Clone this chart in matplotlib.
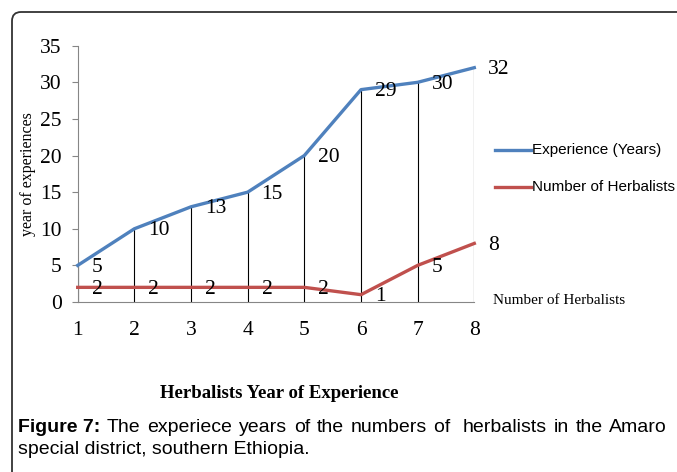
import matplotlib
matplotlib.use("Agg")
import matplotlib.pyplot as plt
from matplotlib.lines import Line2D
from matplotlib.patches import FancyBboxPatch

# chart data
positions = [1, 2, 3, 4, 5, 6, 7, 8]
experience = [5, 10, 13, 15, 20, 29, 30, 32]
herbalists = [2, 2, 2, 2, 2, 1, 5, 8]
y_ticks = [0, 5, 10, 15, 20, 25, 30, 35]
series_names = ["Experience (Years)", "Number of Herbalists"]
caption_line1 = ["Figure 7:", "The", "experiece", "years", "of", "the", "numbers", "of ",
                 "herbalists", "in", "the", "Amaro"]
caption_line2 = "special district, southern Ethiopia."

W, H = 677, 472
BLUE = "#4F81BD"
RED = "#C0504D"
GRAY = "#868686"

plt.rcParams["font.family"] = ["Liberation Serif", "DejaVu Serif"]

fig = plt.figure(figsize=(W / 100, H / 100), dpi=100)


def fx(px):
    return px / W


def fy(py):
    return 1 - py / H


# rounded frame around the figure (runs off the right and bottom edge)
frame = FancyBboxPatch((12, -30), 720, H - 12 + 30,
                       boxstyle="round,pad=0,rounding_size=9",
                       facecolor="none", edgecolor="#333333", linewidth=1.3)
frame.set_transform(None)
fig.add_artist(frame)

ax = fig.add_axes([fx(77.7), fy(302), fx(474.3) - fx(77.7), fy(45.7) - fy(302)])

# drop lines from the experience series to the axis
ax.vlines(positions, 0, experience, color="black", linewidth=0.8, zorder=2)
ax.plot(positions, experience, color=BLUE, linewidth=2.4, zorder=3, clip_on=False)
ax.plot(positions, herbalists, color=RED, linewidth=2.4, zorder=3, clip_on=False)

# data labels
for x, v in zip(positions, experience):
    ax.annotate(str(v), (x, v), xytext=(10, -1.5), textcoords="offset points",
                ha="left", va="center", fontsize=15.5, zorder=4)
for x, v in zip(positions, herbalists):
    ax.annotate(str(v), (x, v), xytext=(10, -1.5), textcoords="offset points",
                ha="left", va="center", fontsize=15.5, zorder=4)

ax.set_xlim(1, 8)
ax.set_ylim(0, 35)
ax.set_xticks(positions)
ax.set_yticks(y_ticks)
for side in ["top", "right"]:
    ax.spines[side].set_visible(False)
for side in ["left", "bottom"]:
    ax.spines[side].set_color(GRAY)
    ax.spines[side].set_linewidth(0.8)
ax.tick_params(axis="y", length=4.5, width=0.8, color=GRAY, pad=7, labelsize=15.5)
ax.tick_params(axis="x", length=0, pad=14, labelsize=15.5)
ax.patch.set_alpha(0)

fig.text(fx(28), fy(174), "year of experiences", rotation=90, ha="center", va="center",
         fontsize=11.5)
fig.text(fx(493), fy(300), "Number of Herbalists", ha="left", va="center", fontsize=11)

# legend, drawn by hand so it can run off the right edge like the original
for name, color, py in zip(series_names, [BLUE, RED], [150, 187]):
    fig.add_artist(Line2D([fx(495), fx(531)], [fy(py), fy(py)], color=color,
                          linewidth=2.4, transform=fig.transFigure))
    fig.text(fx(532), fy(py), name, ha="left", va="center", fontsize=11,
             family="Liberation Sans")

fig.text(fx(279), fy(394), "Herbalists Year of Experience", ha="center", va="center",
         fontsize=13.5, fontweight="bold")

# justified first caption line
renderer = fig.canvas.get_renderer()
words = []
for i, w in enumerate(caption_line1):
    t = fig.text(0, fy(428), w, ha="left", va="center", fontsize=14,
                 family="Liberation Sans", fontweight="bold" if i == 0 else "normal")
    words.append(t)
widths = [t.get_window_extent(renderer).width for t in words]
gap = (667 - 18 - sum(widths)) / (len(words) - 1)
x = 18
for t, w in zip(words, widths):
    t.set_x(fx(x))
    x += w + gap
fig.text(fx(18), fy(450), caption_line2, ha="left", va="center", fontsize=14,
         family="Liberation Sans")

fig.savefig("out.png", dpi=100)
